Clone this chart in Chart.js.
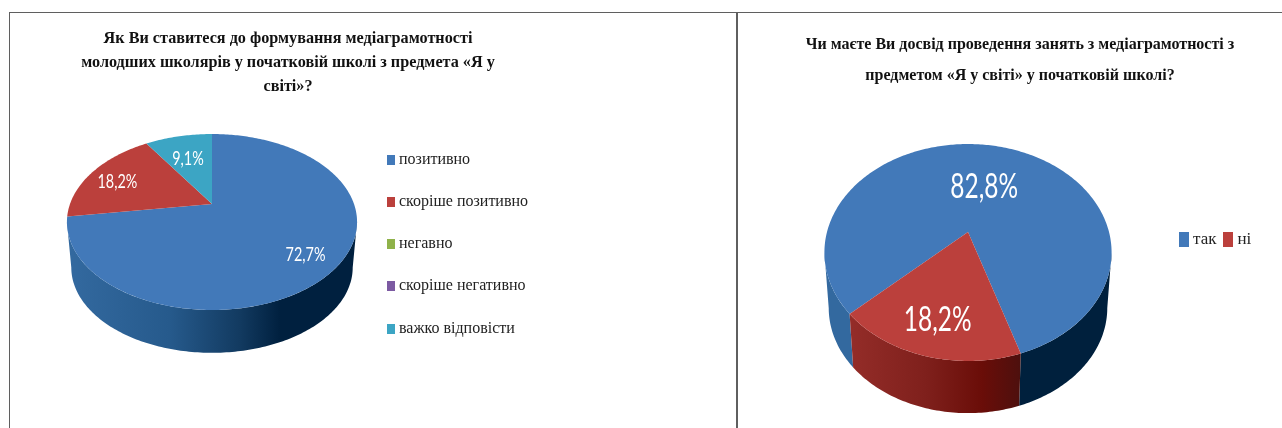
<!DOCTYPE html>
<html>
<head>
<meta charset="utf-8">
<script src="https://cdn.jsdelivr.net/npm/chart.js@4"></script>
<style>
html, body { margin: 0; padding: 0; background: #fff; overflow: hidden; }
#page { position: relative; width: 1282px; height: 428px; overflow: hidden; }
.rule { position: absolute; background: #5f5f5f; }
canvas { position: absolute; }
</style>
</head>
<body>
<div id="page">
  <div class="rule" style="left:9px;top:12px;width:1273px;height:1px"></div>
  <div class="rule" style="left:9px;top:12px;width:1px;height:416px"></div>
  <div class="rule" style="left:736px;top:12px;width:2px;height:416px"></div>
  <canvas id="attitudeChart" width="556" height="415" style="left:10px;top:13px"></canvas>
  <canvas id="experienceChart" width="544" height="415" style="left:738px;top:13px"></canvas>
</div>
<script>
const attitudeTitle = [
    'Як Ви ставитеся до формування медіаграмотності',
    'молодших школярів у початковій школі з предмета «Я у',
    'світі»?'
];
const attitudeLabels = ['позитивно', 'скоріше позитивно', 'негавно', 'скоріше негативно', 'важко відповісти'];
const attitudeValues = [72.7, 18.2, 0, 0, 9.1];

const experienceTitle = [
    'Чи маєте Ви досвід проведення занять з медіаграмотності з',
    'предметом «Я у світі» у початковій школі?'
];
const experienceLabels = ['так', 'ні'];
const experienceValues = [82.8, 18.2];

const blue = '#4279b9';
const red = '#bb403c';
const green = '#8fb24a';
const purple = '#7c5aa2';
const teal = '#3ca5c4';

const blueWall = [[0, '#33699f'], [0.35, '#265a8c'], [0.6, '#123a60'], [0.74, '#00203f']];
const blueWallDark = [[0, '#33699f'], [0.1, '#33699f'], [0.68, '#00203d']];
const redWall = [[0, '#9a302c'], [0.35, '#7f201c'], [0.55, '#6a0d08'], [0.7, '#4a100e']];

// perspective disc: (x,y) is the slice apex, k pulls the front edge toward the viewer
function discPoint(p, angle, radius, scale, drop) {
    const u = Math.cos(angle) * radius;
    const v = Math.sin(angle) * radius;
    const w = 1 - p.k * v;
    return {
        x: p.x + p.a * scale * u / w,
        y: p.y + drop + p.b * scale * v / w
    };
}

function traceEdge(ctx, p, start, end, scale, drop) {
    const steps = Math.max(2, Math.ceil(Math.abs(end - start) * 60));
    for (let i = 0; i <= steps; i++) {
        const pt = discPoint(p, start + (end - start) * i / steps, 1, scale, drop);
        ctx.lineTo(pt.x, pt.y);
    }
}

function drawWall(ctx, p, arc, stops) {
    // only the front of the disc shows a wall, the silhouette turns at sin(angle) = k
    const lo = Math.asin(p.k);
    const hi = Math.PI - lo;
    [-2, 0, 2].forEach(turn => {
        const s = Math.max(arc.startAngle + turn * Math.PI, lo);
        const e = Math.min(arc.endAngle + turn * Math.PI, hi);
        if (e <= s) return;
        const grad = ctx.createLinearGradient(p.x - p.a, 0, p.x + p.a, 0);
        stops.forEach(st => grad.addColorStop(st[0], st[1]));
        ctx.fillStyle = grad;
        ctx.beginPath();
        traceEdge(ctx, p, s, e, 1, 0);
        traceEdge(ctx, p, e, s, p.bottomScale, p.depth);
        ctx.closePath();
        ctx.fill();
    });
}

const pie3d = {
    id: 'pie3d',
    beforeDatasetsDraw(chart, args, p) {
        const ctx = chart.ctx;
        const arcs = chart.getDatasetMeta(0).data;
        const values = chart.data.datasets[0].data;
        const colors = chart.data.datasets[0].backgroundColor;

        ctx.save();
        arcs.forEach((arc, i) => {
            if (values[i] && p.walls[i]) drawWall(ctx, p, arc, p.walls[i]);
        });
        arcs.forEach((arc, i) => {
            if (!values[i]) return;
            ctx.fillStyle = colors[i];
            ctx.beginPath();
            ctx.moveTo(p.x, p.y);
            traceEdge(ctx, p, arc.startAngle, arc.endAngle, 1, 0);
            ctx.closePath();
            ctx.fill();
        });
        ctx.fillStyle = '#fff';
        ctx.textAlign = 'center';
        ctx.textBaseline = 'middle';
        ctx.font = p.labelFont;
        arcs.forEach((arc, i) => {
            if (!values[i]) return;
            const mid = discPoint(p, (arc.startAngle + arc.endAngle) / 2, p.labelRadius[i], 1, p.labelDrop);
            ctx.save();
            ctx.translate(mid.x, mid.y);
            ctx.scale(p.labelSquash, 1);
            ctx.fillText(values[i].toFixed(1).replace('.', ',') + '%', 0, 0);
            ctx.restore();
        });
        ctx.restore();
        return false;
    },
    afterLayout(chart, args, p) {
        const legend = chart.legend;
        const pad = legend.options.labels.padding;
        const w = legend.right - legend.left;
        const h = legend.bottom - legend.top;
        legend.left = p.legendX - pad;
        legend.right = legend.left + w;
        legend.top = p.legendY - pad;
        legend.bottom = legend.top + h;
    }
};

function swatch(color, w, h) {
    const c = document.createElement('canvas');
    c.width = w;
    c.height = h;
    const g = c.getContext('2d');
    g.fillStyle = color;
    g.fillRect(0, 0, w, h);
    return c;
}

function makeChart(id, title, labels, values, colors, titleOpts, legendOpts, pieOpts, padLeft) {
    return new Chart(document.getElementById(id), {
        type: 'pie',
        plugins: [pie3d],
        data: {
            labels: labels,
            datasets: [{ data: values, backgroundColor: colors, borderWidth: 0 }]
        },
        options: {
            responsive: false,
            animation: false,
            rotation: pieOpts.rotation,
            layout: { padding: { left: padLeft } },
            plugins: {
                tooltip: { enabled: false },
                title: {
                    display: true,
                    text: title,
                    color: '#111',
                    font: titleOpts.font,
                    padding: titleOpts.padding
                },
                legend: {
                    position: legendOpts.position,
                    align: 'start',
                    labels: {
                        color: '#222',
                        font: { family: '"Liberation Serif"', size: legendOpts.size },
                        usePointStyle: true,
                        pointStyleWidth: 1,
                        padding: legendOpts.padding,
                        generateLabels(chart) {
                            const items = Chart.overrides.pie.plugins.legend.labels.generateLabels(chart);
                            items.forEach((it, i) => {
                                it.pointStyle = swatch(colors[i], legendOpts.boxW, legendOpts.boxH);
                            });
                            return items;
                        }
                    }
                },
                pie3d: pieOpts
            }
        }
    });
}

makeChart('attitudeChart', attitudeTitle, attitudeLabels, attitudeValues,
    [blue, red, green, purple, teal],
    { font: { family: '"Liberation Serif"', size: 16.2, weight: 'bold', lineHeight: 1.48 }, padding: { top: 14, bottom: 10 } },
    { position: 'right', size: 16, boxW: 8, boxH: 10, padding: 26.25 },
    {
        rotation: 0,
        x: 202, y: 191, a: 142, b: 84.3, k: 0.2045,
        depth: 46, bottomScale: 0.97,
        walls: [blueWall, null, null, null, null],
        labelRadius: [0.78, 0.78, 0, 0, 0.68],
        labelDrop: 3,
        labelFont: '20px Lato', labelSquash: 0.72,
        legendX: 380, legendY: 138.5
    }, 0);

makeChart('experienceChart', experienceTitle, experienceLabels, experienceValues,
    [blue, red],
    { font: { family: '"Liberation Serif"', size: 16, weight: 'bold', lineHeight: 1.94 }, padding: { top: 16, bottom: 10 } },
    { position: 'top', size: 17, boxW: 10, boxH: 15, padding: 11.5 },
    {
        rotation: 227,
        x: 230, y: 219, a: 141, b: 104.6, k: 0.189,
        depth: 56, bottomScale: 0.97,
        walls: [blueWallDark, redWall],
        labelRadius: [0.5, 0.74],
        labelDrop: 1,
        labelFont: '34px Lato', labelSquash: 0.72,
        legendX: 445.5, legendY: 218
    }, 20);
</script>
</body>
</html>
